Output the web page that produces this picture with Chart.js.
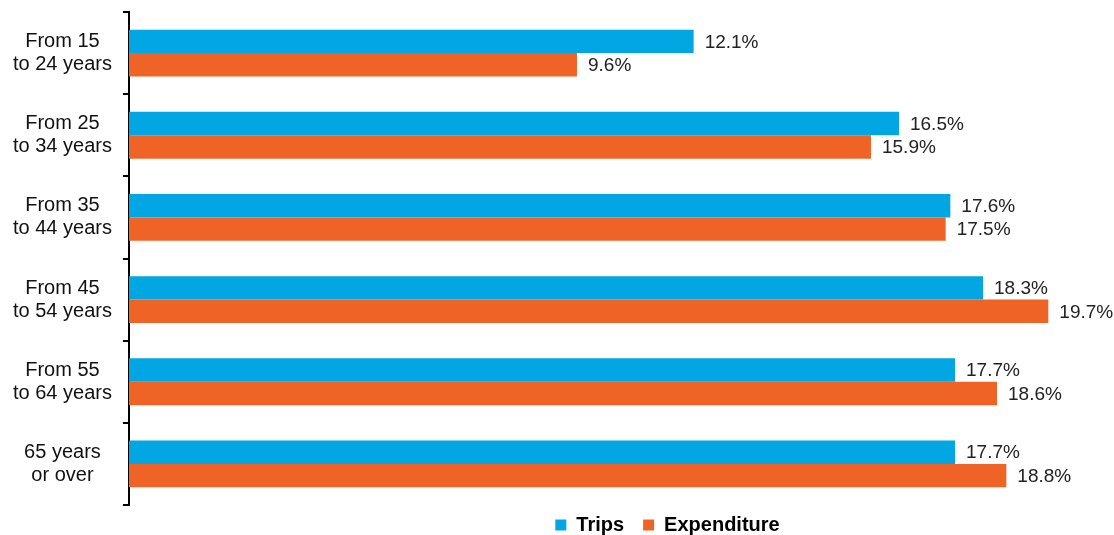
<!DOCTYPE html>
<html lang="en">

<head>
  <meta charset="UTF-8">
  <title>Trips and Expenditure by Age Group</title>
  <script src="https://cdn.jsdelivr.net/npm/chart.js"></script>
  <style>
    body { margin: 0; background: #fff; }
  </style>
</head>

<body>
  <canvas id="ageChart" width="1114" height="535"></canvas>

  <script>
    const ageGroups = [
      ['From 15', 'to 24 years'],
      ['From 25', 'to 34 years'],
      ['From 35', 'to 44 years'],
      ['From 45', 'to 54 years'],
      ['From 55', 'to 64 years'],
      ['65 years', 'or over']
    ];
    const trips = [12.1, 16.5, 17.6, 18.3, 17.7, 17.7];
    const expenditure = [9.6, 15.9, 17.5, 19.7, 18.6, 18.8];

    const fontFamily = '"Liberation Sans", Arial, sans-serif';

    // value labels at the end of each bar
    const barValues = {
      id: 'barValues',
      afterDatasetsDraw(chart) {
        const ctx = chart.ctx;
        ctx.save();
        ctx.font = '19px ' + fontFamily;
        ctx.fillStyle = '#222';
        ctx.textAlign = 'left';
        ctx.textBaseline = 'middle';
        chart.data.datasets.forEach((ds, i) => {
          chart.getDatasetMeta(i).data.forEach((bar, j) => {
            ctx.fillText(ds.data[j].toFixed(1) + '%', bar.x + 11, bar.y + 1);
          });
        });
        ctx.restore();
      }
    };

    // move the legend right and a bit down, under the bars
    const legendShift = {
      id: 'legendShift',
      afterLayout(chart) {
        chart.legend.left += 112;
        chart.legend.right += 112;
        chart.legend.top -= 9;
      }
    };

    const ctx = document.getElementById('ageChart').getContext('2d');
    new Chart(ctx, {
      type: 'bar',
      data: {
        labels: ageGroups,
        datasets: [
          { label: 'Trips', data: trips, backgroundColor: '#02A6E2' },
          { label: 'Expenditure', data: expenditure, backgroundColor: '#EF6426' }
        ]
      },
      options: {
        indexAxis: 'y',
        responsive: false,
        animation: false,
        layout: { padding: { top: 12, left: 2, right: 5, bottom: 0 } },
        datasets: {
          bar: { categoryPercentage: 0.57, barPercentage: 1.0 }
        },
        scales: {
          x: { display: false, min: 0, max: 21 },
          y: {
            // labels sit inside their bands, no extra room needed above/below
            afterFit(scale) {
              scale.paddingTop = 0;
              scale.paddingBottom = 0;
            },
            border: { display: true, color: '#000', width: 2 },
            grid: {
              offset: true,
              drawOnChartArea: false,
              color: '#000',
              lineWidth: 2,
              tickLength: 6
            },
            ticks: {
              crossAlign: 'center',
              padding: 11,
              color: '#111',
              font: { family: fontFamily, size: 20, lineHeight: 1.15 }
            }
          }
        },
        plugins: {
          legend: {
            position: 'bottom',
            maxHeight: 30,
            labels: {
              boxWidth: 11,
              boxHeight: 11,
              padding: 19,
              color: '#000',
              font: { family: fontFamily, size: 20, weight: 'bold' }
            }
          },
          tooltip: { enabled: false }
        }
      },
      plugins: [barValues, legendShift]
    });
  </script>
</body>

</html>
